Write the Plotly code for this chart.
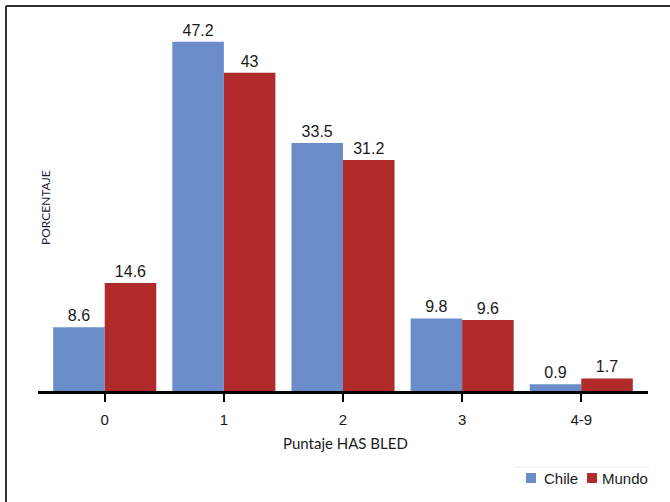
import plotly.graph_objects as go

categories = ["0", "1", "2", "3", "4-9"]
chile = [8.6, 47.2, 33.5, 9.8, 0.9]
mundo = [14.6, 43, 31.2, 9.6, 1.7]
chile_labels = ["8.6", "47.2", "33.5", "9.8", "0.9"]
mundo_labels = ["14.6", "43", "31.2", "9.6", "1.7"]
series_names = ["Chile", "Mundo"]
series_colors = ["#6A8CC8", "#B02A2A"]

W, H = 670, 502
ML, MR, MT, MB = 38, 22, 21, 111
PW = W - ML - MR
PH = H - MT - MB

def px_x(x):
    return (x - ML) / PW

def px_y(y):
    return (H - MB - y) / PH

fig = go.Figure()
for name, vals, labels, color in [
    (series_names[0], chile, chile_labels, series_colors[0]),
    (series_names[1], mundo, mundo_labels, series_colors[1]),
]:
    fig.add_trace(go.Bar(
        name=name, x=categories, y=vals, text=labels,
        textposition="outside", cliponaxis=False,
        marker=dict(color=color, line=dict(width=0)),
        textfont=dict(family="Liberation Sans, Arial", size=16, color="#1a1a1a"),
    ))

# legend drawn as small squares + text at the reference position
legend_items = [(526, 543), (587, 601)]
shapes = [
    dict(type="line", xref="paper", yref="paper",
         x0=px_x(6), x1=px_x(670), y0=px_y(6), y1=px_y(6),
         line=dict(color="#333333", width=2)),
    dict(type="line", xref="paper", yref="paper",
         x0=px_x(6), x1=px_x(6), y0=px_y(6), y1=px_y(502),
         line=dict(color="#333333", width=2)),
    dict(type="line", xref="paper", yref="paper",
         x0=px_x(515), x1=px_x(650), y0=px_y(467), y1=px_y(467),
         line=dict(color="#eeeeee", width=1)),
]
annotations = [
    dict(text="PORCENTAJE", xref="paper", yref="paper",
         x=px_x(46), y=px_y(208), textangle=-90, showarrow=False,
         font=dict(family="Lato, Noto Sans", size=12, color="#1a1a3a"),
         xanchor="center", yanchor="middle"),
    dict(text="Puntaje HAS BLED", xref="paper", yref="paper",
         x=px_x(345), y=px_y(443), showarrow=False,
         font=dict(family="Lato, Noto Sans", size=15, color="#1a1a1a"),
         xanchor="center", yanchor="middle"),
]
for (sx, tx), name, color in zip(legend_items, series_names, series_colors):
    shapes.append(dict(type="rect", xref="paper", yref="paper",
                       x0=px_x(sx), x1=px_x(sx + 10),
                       y0=px_y(483), y1=px_y(473),
                       fillcolor=color, line=dict(width=0)))
    annotations.append(dict(text=name, xref="paper", yref="paper",
                            x=px_x(tx - 1), y=px_y(478), showarrow=False,
                            xanchor="left", yanchor="middle",
                            font=dict(family="Liberation Sans, Arial", size=15,
                                      color="#1a1a1a")))

fig.update_layout(
    width=W, height=H,
    margin=dict(l=ML, r=MR, t=MT, b=MB, pad=0, autoexpand=False),
    paper_bgcolor="white", plot_bgcolor="white",
    barmode="group", bargap=0.135, bargroupgap=0,
    showlegend=False,
    xaxis=dict(
        type="category", range=[-0.56, 4.56],
        showline=True, linecolor="black", linewidth=3,
        ticks="outside", ticklen=8, tickwidth=1.5, tickcolor="black",
        ticklabelstandoff=5,
        tickfont=dict(family="Liberation Sans, Arial", size=15, color="#1a1a1a"),
        showgrid=False, zeroline=False,
    ),
    yaxis=dict(
        range=[0, 50], showline=False, showgrid=False, zeroline=False,
        showticklabels=False, ticks="",
    ),
    annotations=annotations,
    shapes=shapes,
)

fig.write_html("out.html")
